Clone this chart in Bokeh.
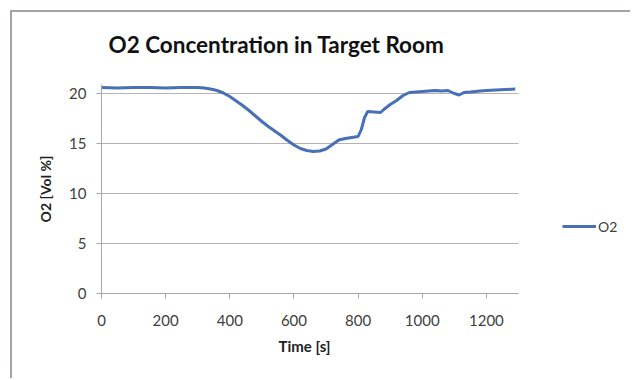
from bokeh.plotting import figure
from bokeh.models import Range1d, FixedTicker, Legend, LegendItem, Title
from bokeh.embed import file_html
from bokeh.resources import INLINE

# Data
time_s = [0, 50, 100, 150, 200, 250, 300, 320, 340, 360, 380, 400, 420, 440, 460,
          480, 500, 520, 540, 560, 580, 600, 620, 640, 660, 680, 700, 720, 740,
          760, 780, 800, 810, 820, 830, 850, 870, 880, 900, 920, 940, 960, 980,
          1000, 1020, 1040, 1060, 1080, 1100, 1115, 1130, 1150, 1180, 1200, 1230,
          1260, 1290]
o2_vol = [20.6, 20.55, 20.6, 20.6, 20.55, 20.6, 20.6, 20.55, 20.45, 20.3, 20.05,
          19.7, 19.25, 18.8, 18.3, 17.75, 17.2, 16.7, 16.25, 15.8, 15.3, 14.85,
          14.5, 14.3, 14.2, 14.25, 14.45, 14.9, 15.35, 15.5, 15.6, 15.7, 16.4,
          17.6, 18.2, 18.15, 18.1, 18.4, 18.9, 19.3, 19.8, 20.1, 20.15, 20.2,
          20.25, 20.3, 20.25, 20.3, 20.0, 19.85, 20.1, 20.15, 20.25, 20.3, 20.35,
          20.4, 20.45]
x_ticks = [0, 200, 400, 600, 800, 1000, 1200]
y_ticks = [0, 5, 10, 15, 20]
x_min, x_max = 0, 1300
y_min, y_max = 0, 20.9

FONT = "Lato"
BORDER = "#a8a2a0"

W, H = 630, 378
LEFT, TOP, BOTTOM = 101, 84, 85
# The frame extends right past the plot area so the legend can sit there;
# 417 px of frame width correspond to the 0..1300 s axis.
FRAME_W = W - LEFT
x_view_end = x_max * FRAME_W / 417.0

p = figure(width=W, height=H, output_backend="svg", toolbar_location=None,
           x_range=Range1d(x_min, x_view_end), y_range=Range1d(y_min, y_max),
           min_border_left=LEFT, min_border_right=0, min_border_top=TOP,
           min_border_bottom=BOTTOM,
           title="O2 Concentration in Target Room",
           styles={"box-shadow": f"inset 10px 10px 0 0 #ffffff, inset 12px 12px 0 0 {BORDER}"})
p.border_fill_color = None

p.title.text_font = FONT
p.title.text_font_size = "22.5px"
p.title.text_font_style = "bold"
p.title.text_color = "#111111"
p.title.align = "left"
p.title.vertical_align = "top"
p.title.offset = 7
p.title.standoff = 50

p.outline_line_color = None
p.xgrid.grid_line_color = None
p.ygrid.grid_line_color = None

# horizontal gridlines over the plot area only
grid_y = [t for t in y_ticks if t > y_min]
p.segment(x0=[x_min] * len(grid_y), x1=[x_max] * len(grid_y), y0=grid_y, y1=grid_y,
          line_color="#b8b2b0", line_width=1)

r = p.line(time_s, o2_vol, line_color="#4770b6", line_width=3)

for ax in (p.xaxis[0], p.yaxis[0]):
    ax.axis_line_color = "#a4a6b4"
    ax.major_tick_line_color = "#a4a6b4"
    ax.major_tick_out = 5
    ax.major_tick_in = 0
    ax.minor_tick_line_color = None
    ax.major_label_text_font = FONT
    ax.major_label_text_font_size = "15px"
    ax.major_label_text_color = "#404040"
    ax.axis_label_text_font = FONT
    ax.axis_label_text_font_style = "bold"
    ax.axis_label_text_font_size = "14px"
    ax.axis_label_text_color = "#222222"

p.xaxis.bounds = (x_min, x_max)
p.xaxis.ticker = FixedTicker(ticks=x_ticks)
p.yaxis.ticker = FixedTicker(ticks=y_ticks)
p.yaxis.axis_label = "O2 [Vol %]"
p.xaxis.major_label_standoff = 16
p.yaxis.major_label_standoff = 10
p.yaxis.axis_label_standoff = 12

# x-axis title, centred under the 0..1300 plot area
x_title = Title(text="Time [s]", align="left", offset=177, standoff=13,
                text_font=FONT, text_font_size="15px", text_font_style="bold",
                text_color="#222222")
p.add_layout(x_title, "below")

legend = Legend(items=[LegendItem(label="O2", renderers=[r])],
                location=(461, 57), margin=0, padding=0, glyph_width=34,
                label_standoff=2, border_line_color=None,
                background_fill_alpha=0,
                label_text_font=FONT, label_text_font_size="14px",
                label_text_color="#404040")
p.add_layout(legend, "center")

open("out.html", "w").write(file_html(p, INLINE))
